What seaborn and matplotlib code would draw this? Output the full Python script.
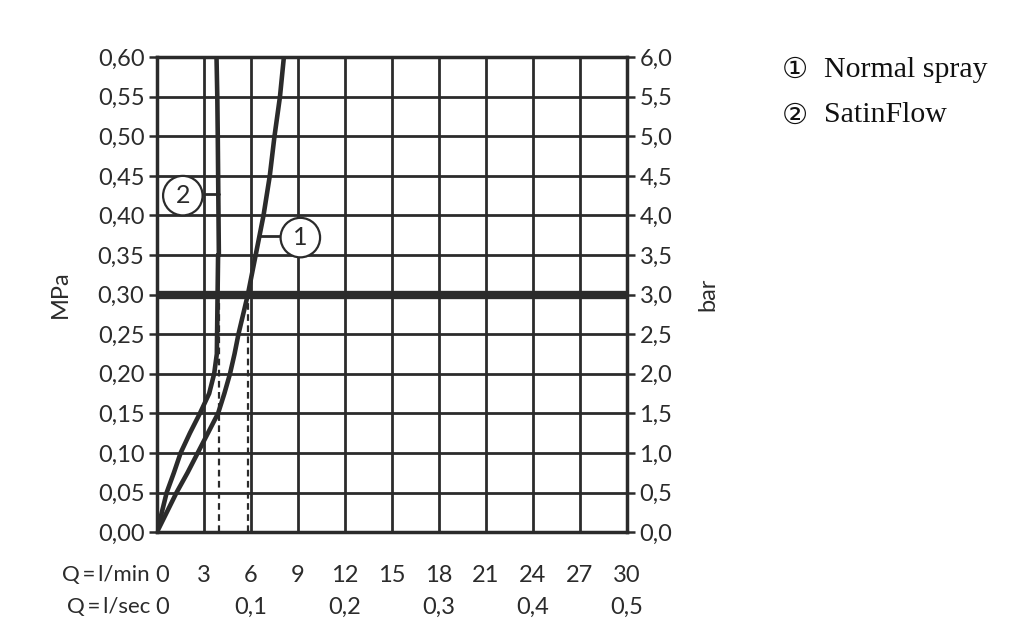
import matplotlib
matplotlib.use("Agg")
import matplotlib.pyplot as plt
import matplotlib.transforms as mtransforms
import seaborn as sns

# values
pressure_mpa = [0.0, 0.05, 0.075, 0.10, 0.125, 0.15, 0.175, 0.20, 0.225, 0.25, 0.30, 0.35, 0.40, 0.45, 0.50, 0.55, 0.60]
normal_spray = [0.0, 1.25, 1.95, 2.6, 3.25, 3.9, 4.3, 4.66, 4.95, 5.2, 5.8, 6.3, 6.8, 7.2, 7.5, 7.85, 8.1]
satinflow = [0.0, 0.62, 1.08, 1.51, 2.1, 2.74, 3.33, 3.65, 3.82, 3.9, 3.95, 3.95, 3.95, 3.9, 3.88, 3.85, 3.8]

lmin_ticks = [0, 3, 6, 9, 12, 15, 18, 21, 24, 27, 30]
lsec_ticks = [0, 6, 12, 18, 24, 30]
lsec_labels = ["0", "0,1", "0,2", "0,3", "0,4", "0,5"]
mpa_ticks = [0.0, 0.05, 0.10, 0.15, 0.20, 0.25, 0.30, 0.35, 0.40, 0.45, 0.50, 0.55, 0.60]
bar_labels = ["0,0", "0,5", "1,0", "1,5", "2,0", "2,5", "3,0", "3,5", "4,0", "4,5", "5,0", "5,5", "6,0"]
operating_flow = [3.95, 5.8]
operating_pressure = 0.30

sns.set_style("white")
plt.rcParams["font.family"] = ["Lato", "DejaVu Sans"]
ink = "#2b2b2b"
fs = 17

fig = plt.figure(figsize=(10.24, 6.38), dpi=100)
ax = fig.add_axes([0.1533, 0.166, 0.459, 0.7445])

for x in lmin_ticks:
    ax.axvline(x, color=ink, lw=2.0, zorder=1)
for y in mpa_ticks:
    ax.axhline(y, color=ink, lw=2.0, zorder=1)
ax.axhline(operating_pressure, color=ink, lw=6, zorder=2)

for q in operating_flow:
    ax.plot([q, q], [0, operating_pressure], color=ink, lw=1.6, ls=(0, (3, 2)), zorder=2)

sns.lineplot(x=normal_spray, y=pressure_mpa, sort=False, color=ink, lw=3.3, ax=ax, zorder=3)
sns.lineplot(x=satinflow, y=pressure_mpa, sort=False, color=ink, lw=3.3, ax=ax, zorder=3)

# callouts
ax.plot([3.0, 3.95], [0.427, 0.427], color=ink, lw=2.0, zorder=3)
ax.text(1.65, 0.425, "2", ha="center", va="center", fontsize=18, color=ink, zorder=4,
        bbox=dict(boxstyle="circle,pad=0.33", fc="white", ec=ink, lw=1.6))
ax.plot([6.6, 7.9], [0.374, 0.374], color=ink, lw=2.0, zorder=3)
ax.text(9.15, 0.372, "1", ha="center", va="center", fontsize=18, color=ink, zorder=4,
        bbox=dict(boxstyle="circle,pad=0.33", fc="white", ec=ink, lw=1.6))

ax.set_xlim(0, 30)
ax.set_ylim(0, 0.60)
ax.set_xticks(lmin_ticks)
ax.set_xticklabels([])
ax.set_yticks(mpa_ticks)
ax.set_yticklabels([f"{v:.2f}".replace(".", ",") for v in mpa_ticks])
ax.tick_params(axis="x", direction="inout", length=8, width=1.8, color=ink)
ax.tick_params(axis="y", direction="out", length=6, width=1.8, color=ink,
               labelsize=fs, labelcolor=ink, pad=3)
for s in ax.spines.values():
    s.set_color(ink)
    s.set_linewidth(2.5)
ax.set_ylabel("MPa", fontsize=fs, color=ink, labelpad=19)

ax2 = ax.twinx()
ax2.set_ylim(0, 6.0)
ax2.set_yticks([v * 10 for v in mpa_ticks])
ax2.set_yticklabels(bar_labels)
ax2.tick_params(axis="y", direction="out", length=6, width=1.8, color=ink,
                labelsize=fs, labelcolor=ink, pad=3)
for s in ax2.spines.values():
    s.set_visible(False)
ax2.set_ylabel("bar", fontsize=fs, color=ink, labelpad=18)

# flow rows under the axis
trans = mtransforms.blended_transform_factory(ax.transData, ax.transAxes)
row1, row2 = -0.0905, -0.158
fig.text(150 / 1024, 1 - 575 / 638, "Q\u2009=\u2009l/min", ha="right", va="center", fontsize=16, color=ink)
fig.text(150 / 1024, 1 - 607 / 638, "Q\u2009=\u2009l/sec", ha="right", va="center", fontsize=16, color=ink)
for x in lmin_ticks:
    ax.text(x + (0.3 if x == 0 else 0), row1, str(x), transform=trans, ha="center", va="center",
            fontsize=fs, color=ink)
for x, lab in zip(lsec_ticks, lsec_labels):
    ax.text(x + (0.3 if x == 0 else 0), row2, lab, transform=trans, ha="center", va="center",
            fontsize=fs, color=ink)

# legend
fig.text(0.763, 0.891, "\u2460", fontsize=21, family=["DejaVu Sans"], va="center", color="#111")
fig.text(0.805, 0.891, "Normal spray", fontsize=21.5, family=["Liberation Serif"], va="center", color="#111")
fig.text(0.763, 0.819, "\u2461", fontsize=21, family=["DejaVu Sans"], va="center", color="#111")
fig.text(0.805, 0.819, "SatinFlow", fontsize=21.5, family=["Liberation Serif"], va="center", color="#111")

fig.savefig("out.png", dpi=100, facecolor="white")
